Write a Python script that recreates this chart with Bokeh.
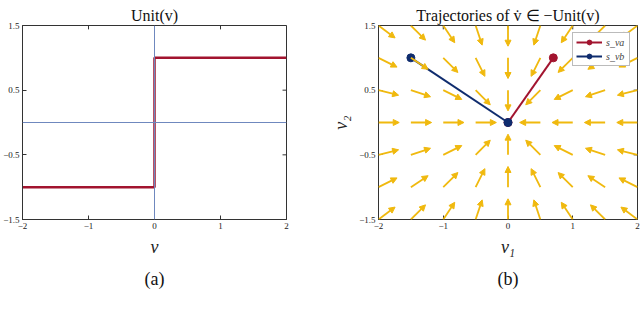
import numpy as np
from bokeh.plotting import figure
from bokeh.models import (Span, FixedTicker, Title, Arrow, NormalHead,
                          ColumnDataSource, Legend, LegendItem, Range1d)
from bokeh.core.properties import value
from bokeh.layouts import row, column
from bokeh.embed import file_html
from bokeh.resources import INLINE

# ---------------- data ----------------
step_x = [-2, 0, 0, 2]
step_y = [-1, -1, 1, 1]
x_ticks = [-2, -1, 0, 1, 2]
y_ticks = [-1.5, -0.5, 0.5, 1.5]
grid_v1 = [-2, -1.5, -1, -0.5, 0, 0.5, 1, 1.5, 2]
grid_v2 = [-1.5, -1, -0.5, 0, 0.5, 1, 1.5]
arrow_len = 0.32
traj_a_x = [0.7, 0.0]
traj_a_y = [1.0, 0.0]
traj_b_x = [-1.5, 0.0]
traj_b_y = [1.0, 0.0]
legend_labels = ["s_va", "s_vb"]
GAP = "\u00a0" * 4
caption_parts = [GAP.join(["Fig. 1.", "(a)", "Graph", "of", "Unit(v)"]),
                 GAP.join(["for", "n = 1.", "Note", "that", "Unit(v)"])]

FONT = "Liberation Serif"
RED = "#A2142F"
NAVY = "#0F2C6E"
GOLD = "#F0B90E"
AXC = "#333333"
ZLINE = "#6F88BE"
TICK = 0.06


def style(p):
    p.x_range = Range1d(-2, 2)
    p.y_range = Range1d(-1.5, 1.5)
    xa = p.xaxis[0]
    ya = p.yaxis[0]
    xa.ticker = FixedTicker(ticks=x_ticks)
    ya.ticker = FixedTicker(ticks=y_ticks)
    p.xgrid.visible = False
    p.ygrid.visible = False
    p.outline_line_color = AXC
    p.outline_line_width = 1
    for ax in (xa, ya):
        ax.major_tick_in = 4
        ax.major_tick_out = 0
        ax.minor_tick_in = 0
        ax.minor_tick_out = 0
        ax.axis_line_color = AXC
        ax.major_tick_line_color = AXC
        ax.major_label_text_font = FONT
        ax.major_label_text_font_size = "9px"
        ax.major_label_text_color = "#222222"
        ax.major_label_standoff = 3
        ax.axis_label_text_font = FONT
        ax.axis_label_text_font_size = "18px"
        ax.axis_label_text_font_style = "italic"
        ax.axis_label_text_color = "#222222"
        ax.axis_label_standoff = 5
    # mirrored ticks on top and right (box on)
    p.segment(x0=x_ticks, y0=[1.5] * len(x_ticks), x1=x_ticks,
              y1=[1.5 - TICK] * len(x_ticks), line_color=AXC, line_width=1)
    p.segment(x0=[2] * len(y_ticks), y0=y_ticks, x1=[2 - TICK] * len(y_ticks),
              y1=y_ticks, line_color=AXC, line_width=1)
    p.title.text_font = FONT
    p.title.text_font_size = "16px"
    p.title.text_font_style = "normal"
    p.title.text_color = "#111111"
    p.title.align = "center"
    p.title.standoff = 3
    return xa, ya


def sub_title(p, text):
    p.add_layout(Title(text=text, align="center", text_font=FONT, text_font_size="18px",
                       text_font_style="normal", text_color="#111111", standoff=14), "below")


# ---------------- (a) ----------------
p1 = figure(width=320, height=313, output_backend="svg", toolbar_location=None,
            title="Unit(v)", min_border_left=22, min_border_right=34,
            min_border_top=25, min_border_bottom=91)
xa1, ya1 = style(p1)
xa1.axis_label = "v"
p1.add_layout(Span(location=0, dimension="width", line_color=ZLINE, line_width=1))
p1.add_layout(Span(location=0, dimension="height", line_color=ZLINE, line_width=1))
p1.line(step_x, step_y, line_color=RED, line_width=2.5)
sub_title(p1, "(a)")

# ---------------- (b) ----------------
p2 = figure(width=320, height=313, output_backend="svg", toolbar_location=None,
            title="Trajectories of v\u0307 \u2208 \u2212Unit(v)", min_border_left=58,
            min_border_right=3, min_border_top=25, min_border_bottom=94)
xa2, ya2 = style(p2)
xa2.axis_label = "v\u2081"
ya2.axis_label = "v\u2082"

gx, gy = np.meshgrid(np.array(grid_v1, float), np.array(grid_v2, float))
gx = gx.ravel()
gy = gy.ravel()
nrm = np.hypot(gx, gy)
keep = nrm > 0
gx, gy, nrm = gx[keep], gy[keep], nrm[keep]
src = ColumnDataSource(dict(x0=gx, y0=gy,
                            x1=gx - gx / nrm * arrow_len,
                            y1=gy - gy / nrm * arrow_len))
p2.add_layout(Arrow(end=NormalHead(size=6, fill_color=GOLD, line_color=GOLD, line_width=1),
                    source=src, x_start="x0", y_start="y0", x_end="x1", y_end="y1",
                    line_color=GOLD, line_width=1.8))

ra = p2.line(traj_a_x, traj_a_y, line_color=RED, line_width=2)
sa = p2.scatter(traj_a_x, traj_a_y, size=8, color=RED)
rb = p2.line(traj_b_x, traj_b_y, line_color=NAVY, line_width=2)
sb = p2.scatter(traj_b_x, traj_b_y, size=8, color=NAVY)

legend = Legend(items=[LegendItem(label=legend_labels[0], renderers=[ra, sa]),
                       LegendItem(label=legend_labels[1], renderers=[rb, sb])],
                location="top_right", label_text_font=FONT, label_text_font_style="italic",
                label_text_font_size="10px", glyph_width=26, glyph_height=12,
                spacing=2, padding=3, margin=7, border_line_color="#777777",
                label_standoff=4, background_fill_alpha=1)
p2.add_layout(legend)
sub_title(p2, "(b)")

# ---------------- cropped caption line (only its top edge is in view) ----------------
p3 = figure(width=640, height=5, output_backend="svg", toolbar_location=None,
            x_range=(0, 640), y_range=(0, 5), x_axis_location=None, y_axis_location=None,
            min_border_left=0, min_border_right=0, min_border_top=0, min_border_bottom=0)
p3.outline_line_color = None
p3.xgrid.visible = False
p3.ygrid.visible = False
p3.text(x=[0, 329], y=[9.4, 9.4], text=caption_parts, text_font=value(FONT),
        text_font_size="20px", text_baseline="top", text_align="left", text_color="#111111")

layout = column(row(p1, p2), p3)
open("out.html", "w").write(file_html(layout, INLINE))
